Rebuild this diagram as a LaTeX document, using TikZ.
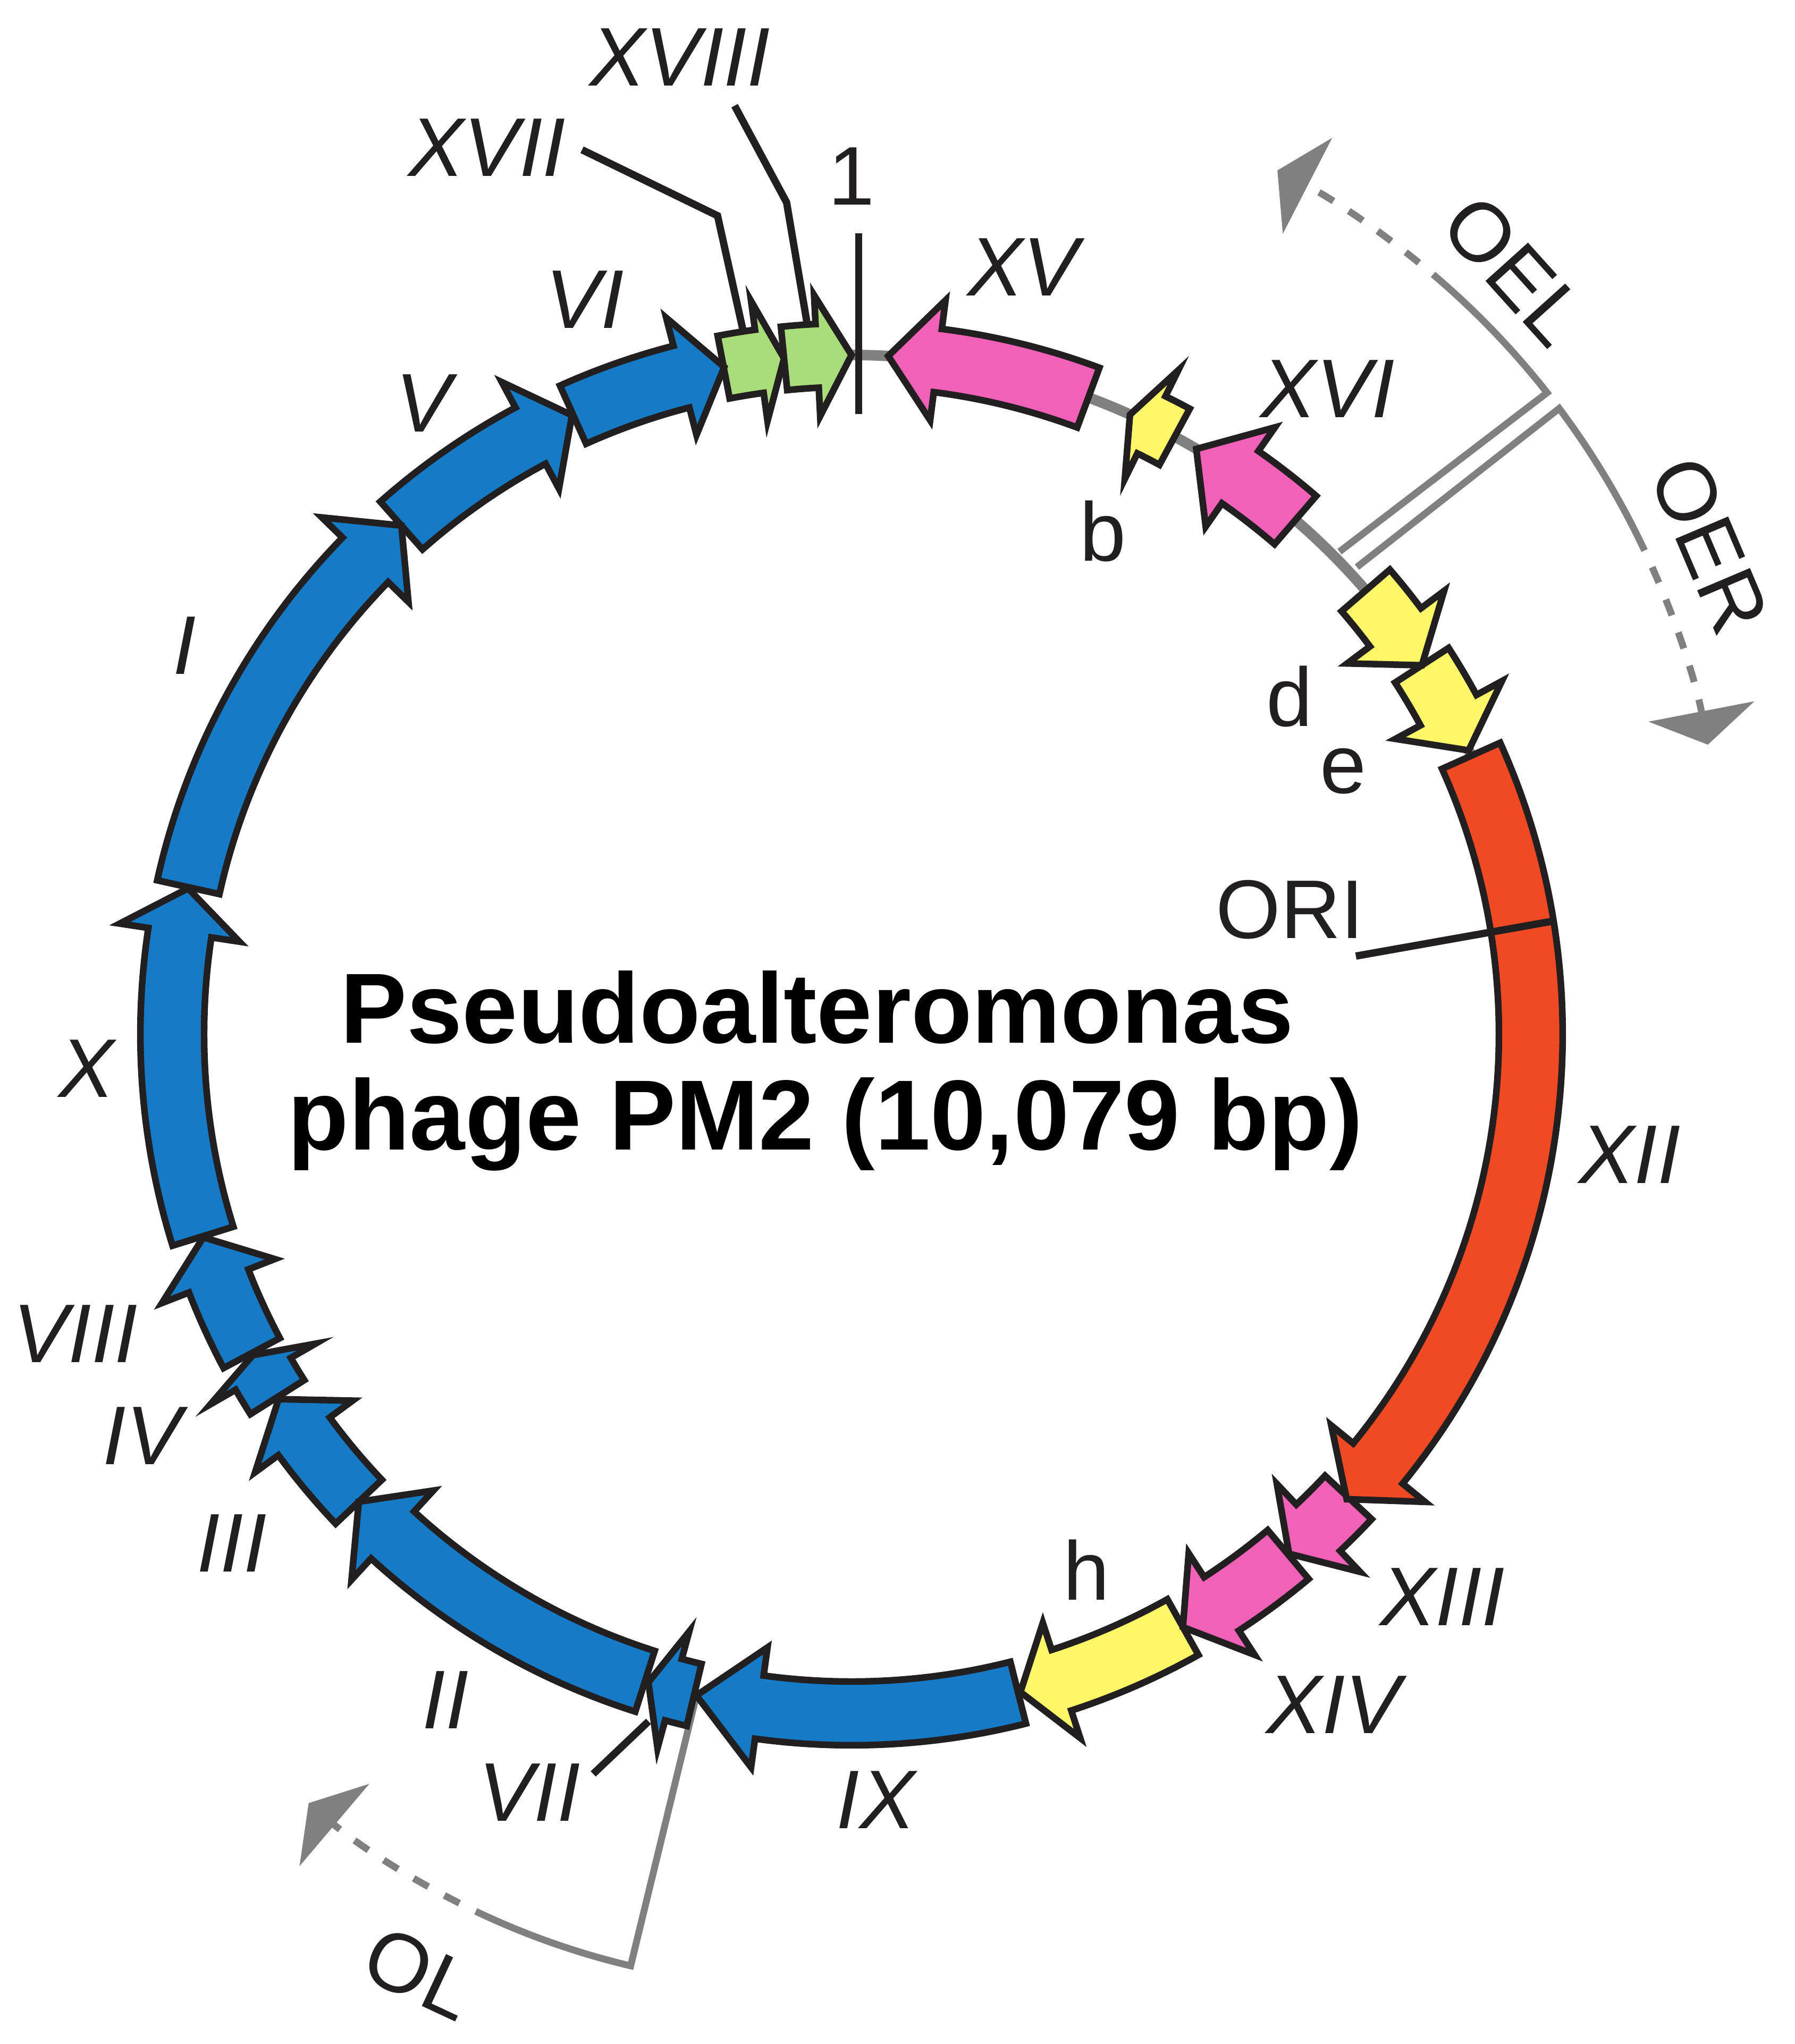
\documentclass[tikz,border=0pt]{standalone}
\usepackage{fontspec}
\setmainfont{Liberation Sans}
\usetikzlibrary{arrows.meta}
\definecolor{pmblue}{RGB}{21,123,199}
\definecolor{pmgreen}{RGB}{168,221,121}
\definecolor{pmpink}{RGB}{240,97,183}
\definecolor{pmyellow}{RGB}{255,247,104}
\definecolor{pmred}{RGB}{239,74,35}
\definecolor{pmline}{RGB}{35,31,32}
\definecolor{pmgray}{RGB}{128,128,128}
\newcommand{\genefont}{\fontsize{18.2}{21}\selectfont}
% gene arrow on the ring: tail angle, head base angle, tip angle, fill colour
\newcommand{\gene}[4]{%
  \filldraw[gene,fill=#4] (#1:497.8) arc[start angle=#1,end angle=#2,radius=497.8]
    -- (#2:476) -- (#3:522.3) -- (#2:569) -- (#2:546.8)
    arc[start angle=#2,end angle=#1,radius=546.8] -- cycle;}
\begin{document}
\begin{tikzpicture}[x=0.01cm,y=0.01cm,line join=miter,font=\genefont,text=pmline,
    gene/.style={draw=pmline,line width=1.45pt},
    lead/.style={draw=pmline,line width=1.6pt},
    gname/.style={font=\genefont\itshape},
    oarm/.style={draw=pmgray,line width=1.5pt},
    odash/.style={oarm,dash pattern=on 0.13cm off 0.14cm,dash phase=0.13cm,
      -{Triangle[width=0.82cm,length=0.26cm]}},
    title/.style={font=\fontsize{21.8}{23}\selectfont\bfseries,text=black,anchor=base}]
\useasboundingbox (-654.7,-776.5) rectangle (725.4,795.3);
% ring
\draw[pmgray,line width=2.3pt] (0,0) circle[radius=522.3];
% OEL / OER
\coordinate (oe) at (39.2,103.4);
\coordinate (oel-in) at (375.2,371.1);
\coordinate (oer-in) at (388.6,359.2);
\coordinate (oel-out) at (534.8,493.3);
\coordinate (oer-out) at (544.1,481.2);
\draw[oarm] (oel-in) -- (oel-out) arc[start angle=38.2,end angle=49.7,radius=630.6];
\draw[odash] ([shift={(oe)}]49.7:630.6) arc[start angle=49.7,end angle=62.8,radius=630.6];
\draw[oarm] (oer-in) -- (oer-out) arc[start angle=36.8,end angle=25.2,radius=630.6];
\draw[odash] ([shift={(oe)}]25.2:630.6) arc[start angle=25.2,end angle=10.9,radius=630.6];
% OL
\coordinate (ol) at (-33.1,-138.1);
\coordinate (ol-in) at (256.8:522.3);
\coordinate (ol-corner) at (-169.8,-716.4);
\draw[oarm] (ol-in) -- (ol-corner) arc[start angle=256.7,end angle=244.5,radius=594.2];
\draw[odash] ([shift={(ol)}]244.5:594.2) arc[start angle=244.5,end angle=229.7,radius=594.2];
% clockwise genes
\gene{100.85}{97.8}{95.7}{pmgreen}   % XVII
\gene{95.7}{92.9}{90.0}{pmgreen}     % XVIII
\gene{114.2}{104.5}{100.8}{pmblue}   % VI
\gene{131.5}{118.2}{114.3}{pmblue}   % V
\gene{167.5}{135.7}{131.5}{pmblue}   % I
\gene{197.3}{171.4}{167.6}{pmblue}   % X
\gene{208.0}{201.3}{197.4}{pmblue}   % VIII
\gene{212.3}{210.0}{208.2}{pmblue}   % IV
\gene{223.5}{216.3}{212.5}{pmblue}   % III
\gene{252.3}{227.5}{223.5}{pmblue}   % II
\gene{256.6}{254.8}{252.6}{pmblue}   % VII
\gene{284.2}{262.2}{256.8}{pmblue}   % IX
\gene{299.2}{288.0}{284.4}{pmyellow} % h
\gene{310.0}{303.0}{299.2}{pmpink}   % XIV
\gene{317.0}{313.4}{310.1}{pmpink}   % XIII
\gene{24.2}{-39.2}{-43.2}{pmred}     % XII
\gene{32.9}{28.5}{24.7}{pmyellow}    % e
\gene{40.8}{36.8}{32.9}{pmyellow}    % d
% counter-clockwise genes
\gene{49.2}{55.1}{59.5}{pmpink}      % XVI
\gene{61.6}{63.8}{65.8}{pmyellow}    % b
\gene{69.6}{82.7}{86.9}{pmpink}      % XV
% leaders and ticks
\coordinate (xvii-s) at (-207.2,680.1);
\coordinate (xvii-e) at (-83.4,541.1);
\draw[lead] (xvii-s) -- (-103.0,629.4) -- (xvii-e);
\coordinate (xviii-s) at (-89.9,714.0);
\coordinate (xviii-e) at (-34.4,548.1);
\draw[lead] (xviii-s) -- (-49.9,639.6) -- (xviii-e);
\coordinate (vii-s) at (-198.6,-568.8);
\coordinate (vii-e) at (-156.1,-528.4);
\draw[lead] (vii-s) -- (vii-e);
\coordinate (ori-s) at (387.8,60.1);
\coordinate (ori-e) at (537.8,86.7);
\draw[lead] (ori-s) -- (ori-e);
\coordinate (one-s) at (5.5,615.7);
\coordinate (one-e) at (5.5,476.8);
\draw[lead] (one-s) -- (one-e);
% labels
\node[gname] (l-xviii) at (-131.9,751.3) {XVIII};
\node[gname] (l-xvii) at (-280.3,681.8) {XVII};
\node (l-one) at (0.1,659.7) {1};
\node[gname] (l-vi) at (-205.1,565.0) {VI};
\node[gname] (l-v) at (-329.1,485.3) {V};
\node[gname] (l-i) at (-512.9,299.0) {I};
\node[gname] (l-x) at (-588.2,-26.6) {X};
\node[gname] (l-viii) at (-596.8,-230.4) {VIII};
\node[gname] (l-iv) at (-545.3,-309.0) {IV};
\node[gname] (l-iii) at (-476.4,-391.4) {III};
\node[gname] (l-ii) at (-312.2,-512.0) {II};
\node[gname] (l-vii) at (-247.7,-583.1) {VII};
\node[gname] (l-ix) at (18.8,-588.8) {IX};
\node (l-h) at (180.6,-411.9) {h};
\node[gname] (l-xiv) at (370.6,-515.7) {XIV};
\node[gname] (l-xiii) at (454.4,-432.7) {XIII};
\node[gname] (l-xii) at (598.3,-92.7) {XII};
\node (l-ori) at (337.1,95.7) {ORI};
\node (l-e) at (377.9,202.1) {e};
\node (l-d) at (336.7,259.7) {d};
\node (l-b) at (193.3,386.6) {b};
\node[gname] (l-xvi) at (366.1,496.2) {XVI};
\node[gname] (l-xv) at (132.0,590.0) {XV};
\node[rotate=-48,inner sep=0pt] (l-oel) at (510.0,587.3) {OEL};
\node[rotate=-67,inner sep=0pt] (l-oer) at (659.6,376.0) {OER};
\node[rotate=-25,inner sep=0pt] (l-ol) at (-331.9,-722.1) {OL};
\node[title] (title) at (-26.6,-6.9) {Pseudoalteromonas};
\node[title] (subtitle) at (-20.1,-89.0) {phage PM2 (10,079 bp)};
\end{tikzpicture}
\end{document}
